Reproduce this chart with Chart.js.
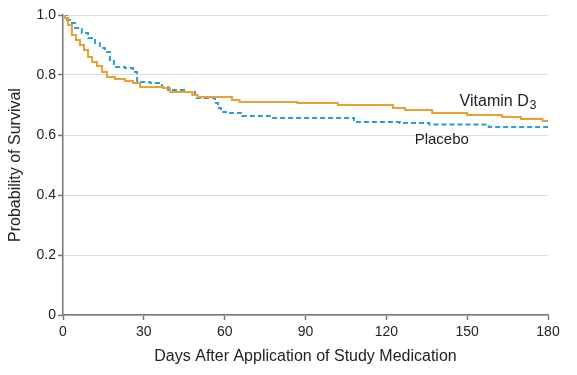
<!DOCTYPE html>
<html>
<head>
<meta charset="utf-8">
<script src="https://cdn.jsdelivr.net/npm/chart.js@4/dist/chart.umd.min.js"></script>
<style>
  html, body { margin: 0; padding: 0; background: #fff; }
  #wrap { width: 577px; height: 375px; }
</style>
</head>
<body>
<div id="wrap"><canvas id="canvas"></canvas></div>
<script>

// Kaplan-Meier steps (day, survival after the drop)
let vitDays = [0, 0.7, 1.9, 3.3, 4.8, 6.3, 7.8, 9.3, 10.8, 12.6, 14.5, 16.3, 19.3, 23, 26, 28.6, 37, 39.7, 48, 50, 62.7, 65.5, 87, 102, 122.5, 127, 137, 150, 163, 170, 178, 180];
let vitSurv = [1.0, 0.99, 0.967, 0.933, 0.917, 0.9, 0.883, 0.86, 0.843, 0.83, 0.81, 0.793, 0.787, 0.78, 0.773, 0.76, 0.757, 0.743, 0.733, 0.727, 0.717, 0.71, 0.707, 0.70, 0.69, 0.683, 0.673, 0.667, 0.66, 0.653, 0.647, 0.647];

let placeboDays = [0, 1.5, 2.6, 4.5, 7, 9.3, 11.9, 13.7, 15.6, 17.4, 18.9, 23, 26, 27.5, 32.3, 36.7, 39, 46, 49, 56.4, 57.5, 58.6, 62, 66.4, 77.6, 108, 125, 136, 158, 180];
let placeboSurv = [1.0, 0.983, 0.973, 0.957, 0.94, 0.923, 0.907, 0.89, 0.877, 0.85, 0.827, 0.823, 0.81, 0.777, 0.773, 0.76, 0.75, 0.743, 0.723, 0.707, 0.69, 0.677, 0.673, 0.663, 0.657, 0.643, 0.64, 0.635, 0.627, 0.627];

let xTicks = [0, 30, 60, 90, 120, 150, 180];
let yTicks = [0, 0.2, 0.4, 0.6, 0.8, 1.0];

let orange = '#E8A033';
let blue = '#2E9ED0';
let fontFamily = "'Liberation Sans', Arial, sans-serif";

function toPoints(xs, ys) {
  let pts = [];
  for (let i = 0; i < xs.length; i++) {
    pts.push({x: xs[i], y: ys[i]});
  }
  return pts;
}

// curve labels placed in data coordinates
let curveLabels = {
  id: 'curveLabels',
  afterDatasetsDraw(chart) {
    let ctx = chart.ctx;
    let xs = chart.scales.x;
    let ys = chart.scales.y;
    ctx.save();
    ctx.fillStyle = '#222';
    ctx.textBaseline = 'middle';
    ctx.textAlign = 'left';
    ctx.font = '16px ' + fontFamily;
    let vx = xs.getPixelForValue(147.2);
    let vy = ys.getPixelForValue(0.713);
    ctx.fillText('Vitamin D', vx, vy);
    let w = ctx.measureText('Vitamin D').width;
    ctx.font = '12px ' + fontFamily;
    ctx.fillText('3', vx + w + 1, vy + 5);
    ctx.font = '15px ' + fontFamily;
    ctx.fillText('Placebo', xs.getPixelForValue(130.5), ys.getPixelForValue(0.583));
    ctx.restore();
  }
};

let options = {
  type: 'line',
  data: {
    datasets: [{
      label: 'Vitamin D3',
      data: toPoints(vitDays, vitSurv),
      borderColor: orange,
      borderWidth: 2,
      stepped: 'before',
      pointRadius: 0,
      fill: false
    }, {
      label: 'Placebo',
      data: toPoints(placeboDays, placeboSurv),
      borderColor: blue,
      borderWidth: 2,
      borderDash: [5, 3],
      stepped: 'before',
      pointRadius: 0,
      fill: false
    }]
  },
  options: {
    responsive: true,
    maintainAspectRatio: false,
    animation: false,
    layout: {
      padding: {left: 0, right: 29, top: 15, bottom: 0}
    },
    plugins: {
      legend: { display: false },
      tooltip: { enabled: false }
    },
    scales: {
      x: {
        type: 'linear',
        min: 0,
        max: 180,
        afterFit: function(scale) { scale.height = 60; },
        afterBuildTicks: function(scale) {
          scale.ticks = xTicks.map(v => ({value: v}));
        },
        border: { color: '#777', width: 1.5 },
        grid: {
          drawOnChartArea: false,
          tickLength: 5,
          tickColor: '#777',
          tickWidth: 1.5
        },
        ticks: {
          color: '#222',
          padding: 4,
          maxRotation: 0,
          font: { family: fontFamily, size: 14 }
        },
        title: {
          display: true,
          text: 'Days After Application of Study Medication',
          color: '#222',
          padding: {top: 4, bottom: 9},
          font: { family: fontFamily, size: 16 }
        }
      },
      y: {
        min: 0,
        max: 1,
        afterFit: function(scale) { scale.width = 63; },
        afterBuildTicks: function(scale) {
          scale.ticks = yTicks.map(v => ({value: v}));
        },
        border: { color: '#777', width: 1.5 },
        grid: {
          color: '#dddddd',
          lineWidth: 1,
          tickLength: 5,
          tickColor: '#777',
          tickWidth: 1.5
        },
        ticks: {
          color: '#222',
          padding: 2,
          font: { family: fontFamily, size: 14 },
          callback: function(v) { return v === 0 ? '0' : v.toFixed(1); }
        },
        title: {
          display: true,
          text: 'Probability of Survival',
          color: '#222',
          padding: {top: 6, bottom: 0},
          font: { family: fontFamily, size: 16 }
        }
      }
    }
  },
  plugins: [curveLabels]
};

let chart = new Chart(document.getElementById('canvas'), options);
</script>
</body>
</html>
